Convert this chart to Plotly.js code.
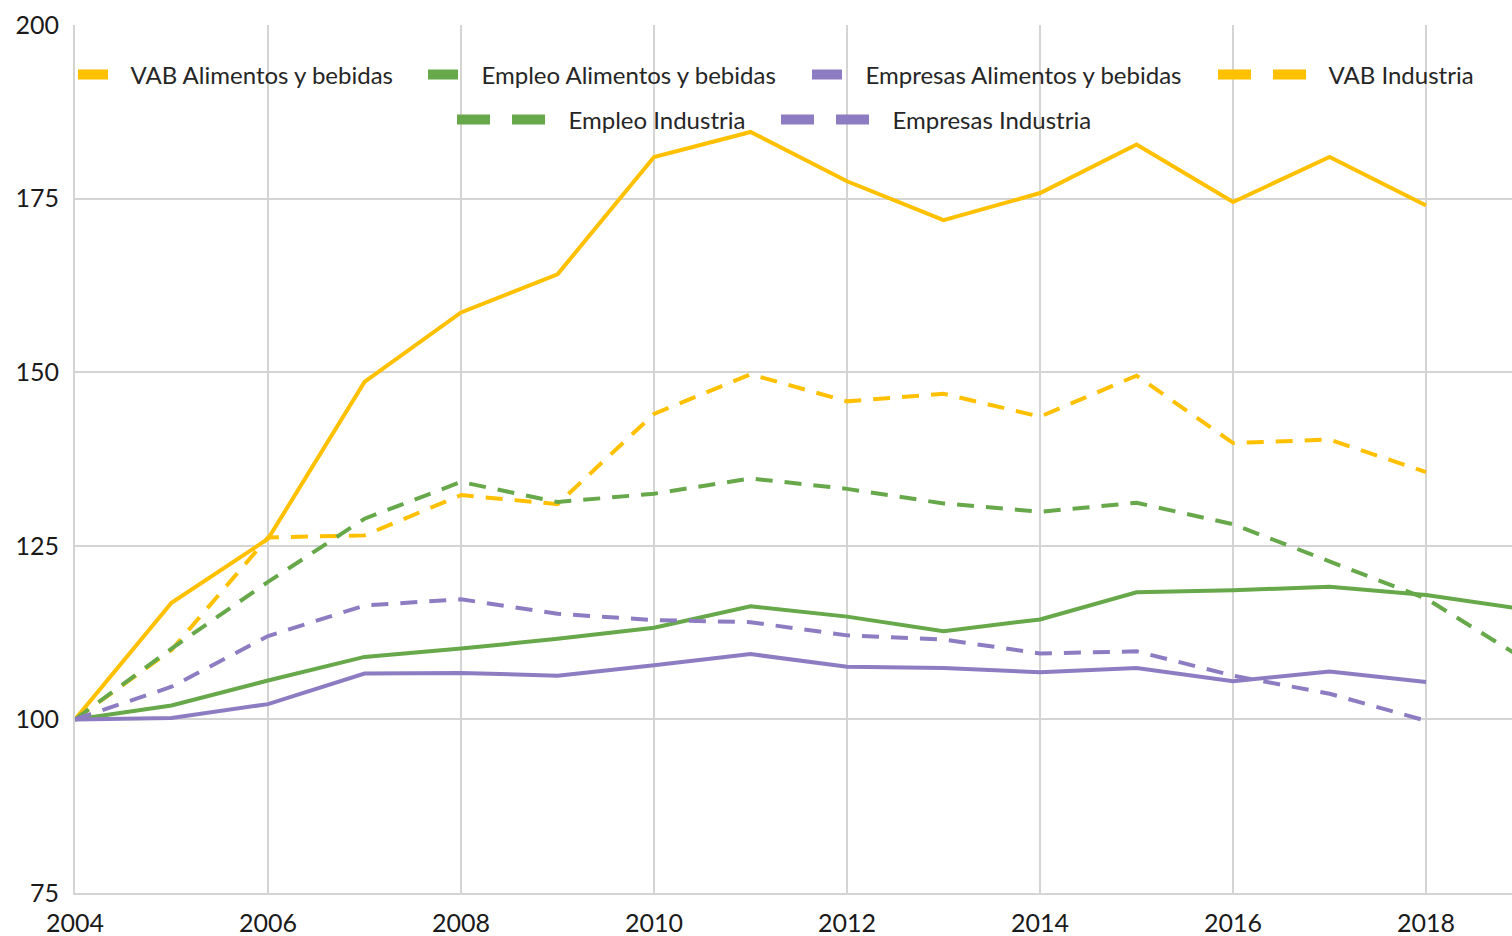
<!DOCTYPE html>
<html>
<head>
<meta charset="utf-8">
<script src="https://cdn.plot.ly/plotly-3.0.1.min.js"></script>
<style>
  html, body { margin: 0; padding: 0; background: #ffffff; }
  #chart { width: 1512px; height: 936px; }
</style>
</head>
<body>
<div id="chart"></div>
<script>
// ---- data ----
const years = [2004, 2005, 2006, 2007, 2008, 2009, 2010, 2011, 2012, 2013, 2014, 2015, 2016, 2017, 2018, 2019];

const vabAlimentos     = [100, 116.8, 126.0, 148.6, 158.6, 164.1, 181.0, 184.6, 177.5, 171.9, 175.8, 182.8, 174.5, 181.0, 174.0, null];
const empleoAlimentos  = [100, 102.0, 105.6, 109.0, 110.2, 111.6, 113.2, 116.3, 114.8, 112.7, 114.4, 118.3, 118.6, 119.1, 117.9, 115.9];
const empresasAlimentos= [100, 100.2, 102.2, 106.6, 106.7, 106.3, 107.8, 109.4, 107.6, 107.4, 106.8, 107.4, 105.5, 106.9, 105.4, null];
const vabIndustria     = [100, 110.0, 126.2, 126.5, 132.3, 131.0, 144.0, 149.7, 145.8, 146.9, 143.6, 149.5, 139.8, 140.3, 135.6, null];
const empleoIndustria  = [100, 110.2, 119.8, 128.9, 134.2, 131.3, 132.5, 134.7, 133.2, 131.1, 129.9, 131.2, 128.1, 122.7, 117.4, 108.8];
const empresasIndustria= [100, 104.7, 112.0, 116.4, 117.3, 115.2, 114.3, 114.0, 112.1, 111.5, 109.5, 109.8, 106.3, 103.7, 99.8, null];

const seriesNames = ["VAB Alimentos y bebidas", "Empleo Alimentos y bebidas", "Empresas Alimentos y bebidas",
                     "VAB Industria", "Empleo Industria", "Empresas Industria"];
const xTicks = [2004, 2006, 2008, 2010, 2012, 2014, 2016, 2018];
const yTicks = [75, 100, 125, 150, 175, 200];

// ---- styles ----
const YELLOW = '#FFC000', GREEN = '#67A84B', PURPLE = '#8E7CC3';
const FONT = 'Lato, "Open Sans", sans-serif';
const seriesValues = [vabAlimentos, empleoAlimentos, empresasAlimentos, vabIndustria, empleoIndustria, empresasIndustria];
const colors = [YELLOW, GREEN, PURPLE, YELLOW, GREEN, PURPLE];
const dashed = [false, false, false, true, true, true];
const legendIds = ['legend', 'legend2', 'legend3', 'legend4', 'legend5', 'legend6'];
const GAP = '\u00A0\u00A0\u00A0';

const traces = [];
seriesValues.forEach((vals, i) => {
  traces.push({
    type: 'scatter', mode: 'lines', x: years, y: vals, name: seriesNames[i],
    line: { color: colors[i], width: 4, dash: dashed[i] ? '17px,12px' : 'solid' },
    connectgaps: false, showlegend: false, hoverinfo: 'x+y+name'
  });
});
// legend entries (thicker symbols as in the reference)
seriesValues.forEach((vals, i) => {
  traces.push({
    type: 'scatter', mode: 'lines', x: [null], y: [null], name: GAP + seriesNames[i],
    line: { color: colors[i], width: 10, dash: dashed[i] ? '33px,22px' : 'solid' },
    showlegend: true, legend: legendIds[i], hoverinfo: 'skip'
  });
});

// legend placement (pixel → paper)
const PL = 75, PW = 1437, PT = 25, PH = 868;
function lx(px) { return (px - PL) / PW; }
function ly(py) { return (PT + PH - py) / PH; }
const legendPos = [[78, 75], [428, 75], [812, 75], [1218, 75], [457, 120], [781, 120]];

const layout = {
  width: 1512, height: 936,
  margin: { l: PL, r: 0, t: PT, b: 936 - PT - PH, pad: 0 },
  paper_bgcolor: '#ffffff', plot_bgcolor: '#ffffff',
  font: { family: FONT, color: '#1a1a1a' },
  xaxis: {
    range: [2004, 2018.89], tickmode: 'array', tickvals: xTicks, ticktext: xTicks.map(String),
    showgrid: true, gridcolor: '#d4d4d4', gridwidth: 2, zeroline: false,
    showline: true, linecolor: '#d4d4d4', linewidth: 2, ticks: '',
    tickfont: { family: FONT, size: 25, color: '#1a1a1a' }, ticklabelstandoff: 7, fixedrange: true
  },
  yaxis: {
    range: [75, 200], tickmode: 'array', tickvals: yTicks, ticktext: yTicks.map(String),
    showgrid: true, gridcolor: '#d4d4d4', gridwidth: 2, zeroline: false,
    showline: true, linecolor: '#d4d4d4', linewidth: 2, ticks: '',
    tickfont: { family: FONT, size: 25, color: '#1a1a1a' }, ticklabelstandoff: 9, fixedrange: true
  },
  showlegend: true
};
legendIds.forEach((id, i) => {
  layout[id] = {
    x: lx(legendPos[i][0] - 5), y: ly(legendPos[i][1]), xanchor: 'left', yanchor: 'middle',
    orientation: 'h', bgcolor: 'rgba(0,0,0,0)', borderwidth: 0,
    itemwidth: dashed[i] ? 88 : 30, itemclick: false, itemdoubleclick: false,
    font: { family: FONT, size: 24, color: '#262626' }
  };
});

Plotly.newPlot('chart', traces, layout, { displayModeBar: false, staticPlot: true });
</script>
</body>
</html>
